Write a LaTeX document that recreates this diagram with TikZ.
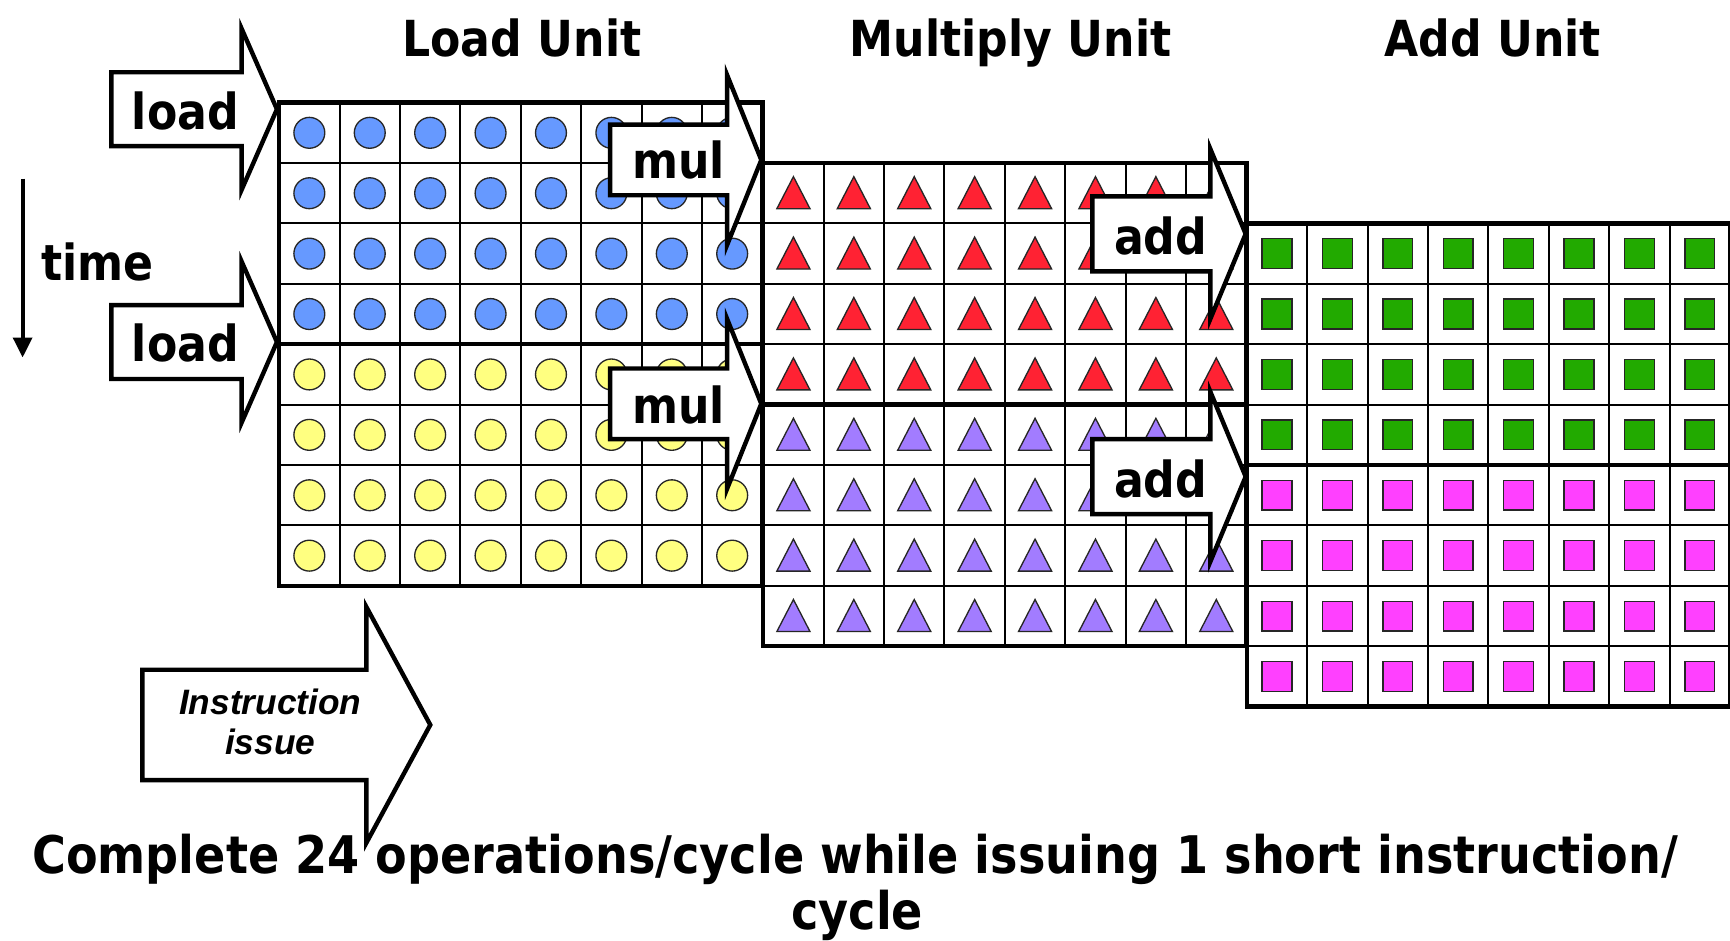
\documentclass[tikz,border=0pt]{standalone}
\usepackage{fontspec}
\setmainfont{DejaVu Sans}[FakeStretch=0.89]
\newfontfamily\arialfont{Liberation Sans}
\usetikzlibrary{arrows.meta}
\definecolor{cblue}{RGB}{102,153,255}
\definecolor{cyellow}{RGB}{255,255,128}
\definecolor{cred}{RGB}{255,34,51}
\definecolor{cpurple}{RGB}{162,124,255}
\definecolor{cgreen}{RGB}{34,170,0}
\definecolor{cmagenta}{RGB}{255,64,255}
\tikzset{
  mk/.style={draw=black!85, line width=1.2pt},
  gridthin/.style={draw=black, line width=1.8pt},
  gridthick/.style={draw=black, line width=4pt},
  barrow/.style={draw=black, fill=white, line width=4pt, line join=miter},
  lbl/.style={font=\fontsize{45}{50}\selectfont\bfseries, inner sep=0pt},
  title/.style={font=\fontsize{45}{50}\selectfont\bfseries, inner sep=0pt},
  captxt/.style={font=\fontsize{47}{52}\selectfont\bfseries, inner sep=0pt},
  issuetxt/.style={font=\arialfont\fontsize{32}{36}\selectfont\bfseries\itshape, inner sep=0pt},
}
\newcommand\cellcircle[3]{\draw[mk, fill=#3] (#1,#2) circle[radius=14pt];}
\newcommand\celltri[3]{\draw[mk, fill=#3] (#1-15,#2+14) -- (#1+15,#2+14) -- (#1,#2-15) -- cycle;}
\newcommand\cellsq[3]{\draw[mk, fill=#3] (#1-13.5,#2-13.5) rectangle (#1+13.5,#2+13.5);}
% grid: x0, y0, shape macro, top colour, bottom colour
\newcommand\unitgrid[5]{%
  \fill[white] (#1,#2) rectangle ++(438,438);
  \foreach \i in {0,...,7}{%
    \foreach \j in {0,...,7}{%
      \pgfmathsetmacro\cx{#1+(\i+0.5)*54.75}%
      \pgfmathsetmacro\cy{#2+(\j+0.5)*54.75}%
      \ifnum\j<4 #3{\cx}{\cy}{#4}\else #3{\cx}{\cy}{#5}\fi
    }}
  \foreach \k in {1,...,7}{%
    \draw[gridthin] (#1+\k*54.75,#2) -- ++(0,438);
    \draw[gridthin] (#1,#2+\k*54.75) -- ++(438,0);
  }
  \draw[gridthick] (#1,#2+219) -- ++(438,0);
  \draw[gridthick] (#1,#2) rectangle ++(438,438);
}
% block arrow: left, head base, tip, centre y, body half-height, head half-height
\newcommand\blockarrow[6]{%
  \draw[barrow] (#1,#4-#5) -- (#2,#4-#5) -- (#2,#4-#6) -- (#3,#4) -- (#2,#4+#6) -- (#2,#4+#5) -- (#1,#4+#5) -- cycle;}
\begin{document}
\begin{tikzpicture}[x=1pt,y=-1pt]
\useasboundingbox (0,0) rectangle (1568,852);
\fill[white] (0,0) rectangle (1568,852);

% titles
\node[title, anchor=base] (tload) at (473,51) {Load Unit};
\node[title, anchor=base] (tmul) at (916,51) {Multiply Unit};
\node[title, anchor=base] (tadd) at (1353,51) {Add Unit};

% time arrow
\coordinate (ta) at (20.5,162);
\coordinate (tb) at (20.5,324);
\draw[line width=3.5pt, -{Triangle[length=18pt,width=17pt]}] (ta) -- (tb);
\node[title, anchor=base west] (time) at (37,254) {time};

% grids
\unitgrid{253}{93}{\cellcircle}{cblue}{cyellow}
\unitgrid{691.75}{147.75}{\celltri}{cred}{cpurple}
\unitgrid{1130}{202.5}{\cellsq}{cgreen}{cmagenta}

% block arrows
\blockarrow{101}{219}{251}{99}{33.5}{73}
\node[lbl, anchor=base] (load1) at (168,117) {load};
\blockarrow{101}{219}{251}{310}{33.5}{73}
\node[lbl, anchor=base] (load2) at (168,328) {load};
\blockarrow{553}{659}{690}{145}{32}{77}
\node[lbl, anchor=base] (mul1) at (615,162) {mul};
\blockarrow{553}{659}{690}{366}{32}{77}
\node[lbl, anchor=base] (mul2) at (615,384) {mul};
\blockarrow{990}{1097}{1129}{212}{34}{77}
\node[lbl, anchor=base] (add1) at (1052,231) {add};
\blockarrow{990}{1097}{1129}{432}{34}{77}
\node[lbl, anchor=base] (add2) at (1052,451) {add};

% instruction issue
\blockarrow{129}{332}{390}{657}{50}{107}
\node[issuetxt, anchor=base] (iss1) at (245,648) {Instruction};
\node[issuetxt, anchor=base] (iss2) at (245,684) {issue};

% caption
\node[captxt, anchor=base] (cap1) at (775,792) {Complete 24 operations/cycle while issuing 1 short instruction/};
\node[captxt, anchor=base] (cap2) at (777,842) {cycle};
\end{tikzpicture}
\end{document}
